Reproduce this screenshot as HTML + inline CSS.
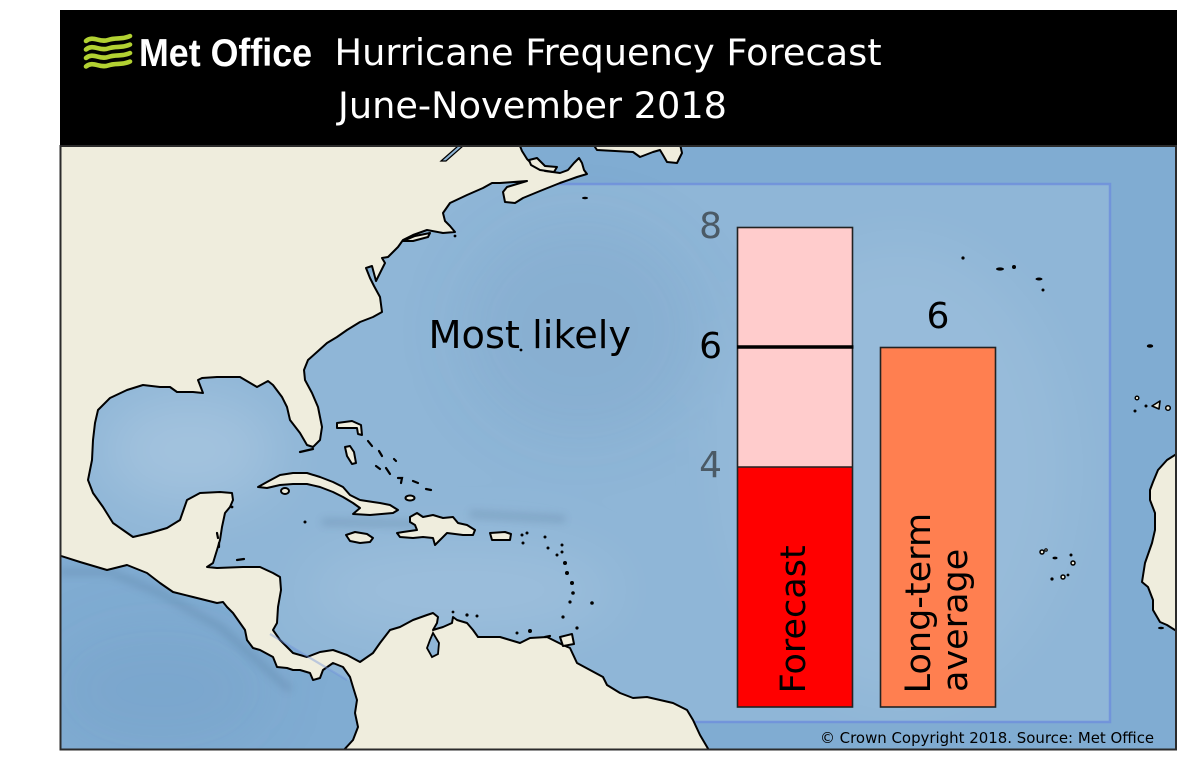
<!DOCTYPE html>
<html>
<head>
<meta charset="utf-8">
<style>
html,body{margin:0;padding:0;background:#ffffff;}
svg{display:block;}
text{font-family:"DejaVu Sans","Liberation Sans",sans-serif;}
</style>
</head>
<body>
<svg width="1188" height="762" viewBox="0 0 1188 762" xmlns="http://www.w3.org/2000/svg">
<defs>
  <clipPath id="mapclip"><rect x="60" y="146" width="1116" height="604"/></clipPath>
  <filter id="blur" x="-50%" y="-50%" width="200%" height="200%"><feGaussianBlur stdDeviation="30"/></filter>
  <filter id="blur2" x="-50%" y="-50%" width="200%" height="200%"><feGaussianBlur stdDeviation="4"/></filter>
</defs>

<rect x="0" y="0" width="1188" height="762" fill="#ffffff"/>

<!-- header -->
<rect x="60" y="10" width="1117" height="137" fill="#000000"/>
<g fill="none" stroke="#b2d132" stroke-width="4.6" stroke-linecap="round">
  <path d="M86,41 C93,35 100,43 108,40 C116,37 122,40 130,36"/>
  <path d="M86,49.5 C93,43.5 100,51.5 108,48.5 C116,45.5 122,48.5 130,44.5"/>
  <path d="M86,58 C93,52 100,60 108,57 C116,54 122,57 130,53"/>
  <path d="M86,66.5 C93,60.5 100,68.5 108,65.5 C116,62.5 122,65.5 130,61.5"/>
</g>
<text x="139" y="66" font-weight="bold" font-size="39" fill="#ffffff" textLength="173" lengthAdjust="spacingAndGlyphs" style="font-family:'Liberation Sans',Arial,sans-serif">Met Office</text>
<text x="334.5" y="65" font-size="36.7" fill="#ffffff">Hurricane Frequency Forecast</text>
<text x="338" y="118" font-size="36.7" fill="#ffffff">June-November 2018</text>

<!-- map -->
<g clip-path="url(#mapclip)">
  <rect x="60" y="146" width="1116" height="604" fill="#80acd2"/>
  <!-- region light fill -->
  <path d="M440,200 L470,184 L1110,184 L1110,722 L700,722 L347,680 L217,603 L75,545 L75,380 L330,320 L400,240 Z" fill="#ffffff" opacity="0.12"/>
  <!-- texture blobs -->
  <g filter="url(#blur)">
    <ellipse cx="190" cy="450" rx="90" ry="55" fill="#ffffff" opacity="0.18"/>
    <ellipse cx="460" cy="590" rx="160" ry="45" fill="#ffffff" opacity="0.12"/>
    <ellipse cx="900" cy="470" rx="170" ry="230" fill="#ffffff" opacity="0.08"/>
    <ellipse cx="580" cy="330" rx="120" ry="110" fill="#5d86ad" opacity="0.12"/>
    <ellipse cx="160" cy="690" rx="110" ry="60" fill="#5d86ad" opacity="0.12"/>
  </g>
  <g filter="url(#blur2)" stroke="#4f6f8f" stroke-width="7" fill="none" opacity="0.25">
    <path d="M322,522 L420,524"/>
    <path d="M470,514 L565,519"/>
    <path d="M60,572 L110,572 L160,593 L220,627 L290,690"/>
  </g>

  <!-- region outline (under land) -->
  <path d="M520,184 L1110,184 L1110,722 L690,722" fill="none" stroke="#6e8fdc" stroke-width="2.5" opacity="0.85"/>

  <!-- main land: Americas -->
  <path fill="#efeddd" stroke="#000" stroke-width="2" stroke-linejoin="round" d="M60,146 L520,146 L522,151 L527,159 L534,166 L545,171 L560,173 L568,170 L574,163 L579,158 L582,163 L584,170 L587,174 L577,177 L560,183 L540,191 L523,198 L515,203 L505,202 L503,192 L507,187 L527,181 L500,183 L492,183 L483,188 L467,195 L450,203 L443,213 L445,221 L450,226 L455,232 L443,233 L427,230 L413,235 L403,240 L398,247 L388,257 L382,258 L385,263 L380,273 L376,281 L372,266 L366,268 L370,278 L374,286 L380,297 L382,312 L373,317 L360,322 L347,330 L337,337 L327,343 L317,352 L308,360 L304,370 L305,380 L312,393 L318,407 L322,427 L320,440 L313,447 L307,445 L300,433 L290,420 L287,407 L282,397 L273,385 L268,381 L257,387 L240,377 L217,377 L202,378 L198,380 L203,393 L193,392 L177,392 L170,387 L160,387 L143,385 L127,390 L110,398 L98,410 L95,423 L93,440 L92,460 L88,480 L93,493 L103,507 L113,523 L123,530 L133,537 L150,533 L167,528 L180,520 L187,500 L200,493 L220,492 L232,493 L233,500 L230,507 L225,513 L222,527 L220,540 L217,550 L213,563 L207,567 L217,568 L243,567 L260,567 L273,573 L280,577 L281,590 L278,607 L277,623 L273,630 L280,640 L293,653 L307,657 L320,652 L333,650 L347,655 L360,662 L373,653 L380,643 L390,630 L400,627 L413,620 L427,615 L433,613 L438,617 L437,623 L433,630 L443,627 L452,623 L453,617 L457,620 L467,623 L473,630 L478,637 L500,637 L510,640 L520,643 L530,638 L547,637 L553,640 L563,645 L570,648 L577,663 L590,670 L603,677 L607,685 L620,693 L633,698 L647,697 L660,700 L673,703 L687,710 L693,720 L700,735 L710,752 L342,752 L353,740 L358,727 L355,713 L357,700 L353,687 L350,677 L343,667 L333,663 L323,670 L320,678 L313,680 L310,673 L300,670 L293,670 L287,668 L277,667 L273,657 L260,650 L253,648 L247,640 L245,630 L233,613 L227,607 L223,602 L217,603 L193,597 L173,592 L160,583 L147,573 L127,565 L107,570 L80,562 L58,555 L58,146 Z"/>
  <!-- inland water -->
  <path d="M441,161 L458,146 L463,146 L446,161 Z" fill="#8fb6d7" stroke="#000" stroke-width="1.2"/>
  <path d="M433,633 L439,643 L438,654 L432,657 L427,648 L430,640 Z" fill="#8fb6d7" stroke="#000" stroke-width="1.8"/>

  <!-- islands -->
  <g fill="#efeddd" stroke="#000" stroke-width="2" stroke-linejoin="round">
    <path d="M258,487 L267,482 L280,475 L293,473 L307,473 L320,477 L333,482 L343,487 L350,495 L360,500 L373,502 L380,503 L390,505 L398,510 L393,513 L370,515 L353,514 L360,508 L353,503 L343,497 L333,492 L320,487 L307,484 L293,484 L280,485 L267,488 Z"/>
    <path d="M410,517 L417,513 L423,517 L433,515 L443,518 L453,517 L458,523 L467,525 L475,530 L473,535 L463,535 L447,533 L440,540 L435,545 L433,538 L423,537 L413,538 L400,537 L397,533 L403,532 L417,530 L415,525 L410,522 Z"/>
    <path d="M346,535 L355,532 L367,534 L373,538 L370,542 L360,543 L350,541 Z"/>
    <path d="M490,533 L505,532 L511,534 L510,540 L492,540 Z"/>
    <path d="M337,423 L352,421 L361,425 L362,435 L358,434 L357,428 L337,428 Z"/>
    <path d="M345,447 L350,446 L354,452 L356,463 L352,464 L347,456 Z"/>
    <path d="M560,637 L572,634 L574,644 L563,646 Z"/>
    <ellipse cx="285" cy="491" rx="4" ry="3"/>
    <ellipse cx="410" cy="498" rx="4.5" ry="2.5"/>
    <path d="M403,241 L415,236 L430,233 L428,237 L413,241 Z"/>
    <path d="M529,160 L537,158 L545,166 L557,167 L554,172 L540,170 L531,165 Z"/>
    <path d="M593,144 L597,150 L633,152 L640,157 L653,152 L660,150 L663,155 L667,162 L677,163 L682,153 L680,144 Z"/>
    <path d="M1178,453 L1167,460 L1158,470 L1153,482 L1150,490 L1150,500 L1155,513 L1155,530 L1152,543 L1145,563 L1142,582 L1148,587 L1153,600 L1153,610 L1160,622 L1167,625 L1178,632 Z"/>
    <path d="M1152,406 L1160,401 L1159,409 Z" stroke-width="1.6"/>
    <circle cx="1168" cy="408" r="2.3" stroke-width="1.5"/>
    <circle cx="1137" cy="398" r="1.8" stroke-width="1.4"/>
    <circle cx="1042" cy="552" r="2" stroke-width="1.5"/>
    <circle cx="1073" cy="563" r="2" stroke-width="1.5"/>
    <circle cx="1063" cy="577" r="2" stroke-width="1.5"/>
    <circle cx="1046" cy="550" r="1.2" stroke-width="1.2"/>
  </g>
  <!-- small islets -->
  <g fill="#000">
    <circle cx="521" cy="350" r="1.4"/>
    <circle cx="963" cy="258" r="1.6"/>
    <ellipse cx="1000" cy="269" rx="4" ry="1.6"/>
    <circle cx="1014" cy="267" r="2"/>
    <ellipse cx="1039" cy="279" rx="3.5" ry="1.5"/>
    <circle cx="1043" cy="290" r="1.5"/>
    <ellipse cx="1150" cy="346" rx="3.2" ry="1.8"/>
    <circle cx="1135" cy="411" r="1.5"/>
    <circle cx="1146" cy="406" r="1.5"/>
    <ellipse cx="1055" cy="558" rx="2.5" ry="1.4"/>
    <circle cx="1071" cy="555" r="1.5"/>
    <circle cx="1052" cy="579" r="1.6"/>
    <circle cx="1068" cy="575" r="1.4"/>
    <ellipse cx="1161" cy="628" rx="3" ry="1.3"/>
    <ellipse cx="585" cy="198" rx="3" ry="1.3"/>
    <circle cx="522" cy="535" r="1.5"/><circle cx="527" cy="533" r="1.5"/><circle cx="523" cy="543" r="1.5"/>
    <circle cx="545" cy="537" r="1.5"/><circle cx="548" cy="548" r="1.5"/><circle cx="557" cy="555" r="1.5"/>
    <circle cx="562" cy="545" r="1.5"/><circle cx="562" cy="552" r="1.5"/><circle cx="565" cy="563" r="2"/>
    <circle cx="567" cy="573" r="2"/><circle cx="572" cy="583" r="2"/><circle cx="573" cy="593" r="1.8"/>
    <circle cx="570" cy="602" r="1.6"/><circle cx="592" cy="603" r="1.8"/><circle cx="563" cy="617" r="1.6"/>
    <circle cx="577" cy="628" r="1.6"/><circle cx="517" cy="633" r="1.5"/><circle cx="530" cy="631" r="2"/>
    <circle cx="453" cy="612" r="1.4"/><circle cx="467" cy="615" r="1.6"/><circle cx="477" cy="616" r="1.5"/>
    <circle cx="305" cy="522" r="1.5"/><circle cx="232" cy="507" r="1.4"/><circle cx="455" cy="236" r="1.4"/>
  </g>
  <g fill="none" stroke="#000" stroke-width="2.2" stroke-linecap="round">
    <path d="M368,441 L372,446"/>
    <path d="M379,451 L382,456"/>
    <path d="M394,459 L396,461"/>
    <path d="M376,466 L380,469"/>
    <path d="M386,468 L390,474"/>
    <path d="M398,478 L402,478 L401,483"/>
    <path d="M413,481 L418,483"/>
    <path d="M426,489 L431,490"/>
    <path d="M300,452 L313,449"/>
    <path d="M217,533 L218,538"/>
    <path d="M219,543 L219,547"/>
    <path d="M237,560 L244,559"/>
    <path d="M545,637 L550,636"/>
  </g>
  <!-- region boundary across isthmus -->
  <path d="M270,634 L347,680" fill="none" stroke="#6e8fdc" stroke-width="2.2" opacity="0.4"/>
</g>
<rect x="60.5" y="146" width="1115.5" height="603.5" fill="none" stroke="#2b2b2b" stroke-width="2"/>

<!-- Most likely -->
<text x="428.5" y="348" font-size="38.3" fill="#000">Most likely</text>

<!-- forecast bar -->
<rect x="737.5" y="227.5" width="115" height="240" fill="#ffcccc"/>
<rect x="737.5" y="467" width="115" height="240" fill="#ff0000"/>
<rect x="737.5" y="227.5" width="115" height="479.5" fill="none" stroke="#222" stroke-width="1.6"/>
<line x1="737.5" y1="467" x2="852.5" y2="467" stroke="#222" stroke-width="1.6"/>
<line x1="737" y1="347" x2="853.5" y2="347" stroke="#000" stroke-width="3.6"/>

<!-- long-term bar -->
<rect x="880.5" y="347.5" width="115" height="359.5" fill="#ff7f50" stroke="#222" stroke-width="1.6"/>

<!-- labels -->
<text x="722" y="238" font-size="36" fill="#4b5a66" text-anchor="end">8</text>
<text x="722" y="358" font-size="36" fill="#000" text-anchor="end">6</text>
<text x="722" y="477" font-size="36" fill="#4b5a66" text-anchor="end">4</text>
<text x="938" y="328" font-size="36" fill="#000" text-anchor="middle">6</text>

<text transform="translate(805,693.4) rotate(-90)" font-size="35" fill="#000">Forecast</text>
<text transform="translate(930,693.4) rotate(-90)" font-size="35" fill="#000">Long-term</text>
<text transform="translate(967,692) rotate(-90)" font-size="35" fill="#000">average</text>

<text x="820" y="743" font-size="14.95" fill="#000">© Crown Copyright 2018. Source: Met Office</text>
</svg>
</body>
</html>
